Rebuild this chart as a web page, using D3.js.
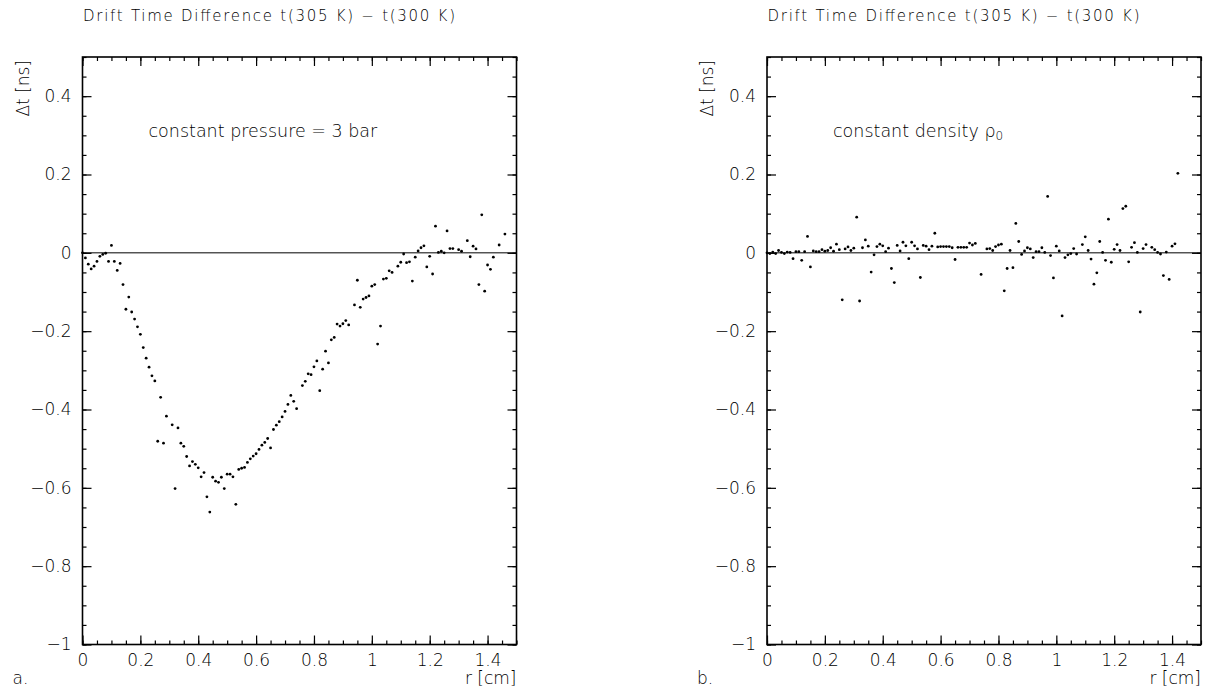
<!DOCTYPE html>
<html>
<head>
<meta charset="utf-8">
<script src="https://cdn.jsdelivr.net/npm/d3@7"></script>
<style>
  body { margin: 0; background: #fff; }
  svg text { font-family: "DejaVu Sans", sans-serif; font-weight: 200; fill: #000; }
</style>
</head>
<body>
<div id="general"></div>
<script>
// chart values
const titleText = "Drift Time Difference t(305 K) \u2212 t(300 K)";
const xLabel = "r [cm]";
const yLabel = "\u0394t [ns]";
const xMajor = [0, 0.2, 0.4, 0.6, 0.8, 1, 1.2, 1.4];
const yMajor = [-1, -0.8, -0.6, -0.4, -0.2, 0, 0.2, 0.4];
const xDomain = [0, 1.5];
const yDomain = [-1, 0.5];

// r [cm], dt [ns] : constant pressure = 3 bar
const pressurePts = [
  [0.00,0.000],[0.01,-0.013],[0.02,-0.029],[0.03,-0.041],[0.04,-0.034],[0.05,-0.022],[0.06,-0.009],[0.07,-0.004],
  [0.08,-0.001],[0.09,-0.022],[0.10,0.019],[0.11,-0.022],[0.12,-0.045],[0.13,-0.027],[0.14,-0.081],[0.15,-0.144],
  [0.16,-0.113],[0.17,-0.151],[0.18,-0.169],[0.19,-0.189],[0.20,-0.208],[0.21,-0.242],[0.22,-0.269],[0.23,-0.292],
  [0.24,-0.314],[0.25,-0.327],[0.26,-0.481],[0.27,-0.369],[0.28,-0.486],[0.29,-0.417],[0.31,-0.439],[0.32,-0.602],
  [0.33,-0.447],[0.34,-0.486],[0.35,-0.494],[0.36,-0.520],[0.37,-0.544],[0.38,-0.533],[0.39,-0.540],[0.40,-0.549],
  [0.41,-0.572],[0.42,-0.561],[0.43,-0.623],[0.44,-0.662],[0.45,-0.573],[0.46,-0.583],[0.47,-0.586],[0.48,-0.573],
  [0.49,-0.602],[0.50,-0.565],[0.51,-0.565],[0.52,-0.572],[0.53,-0.642],[0.54,-0.553],[0.55,-0.550],[0.56,-0.548],
  [0.57,-0.535],[0.58,-0.526],[0.59,-0.519],[0.60,-0.513],[0.61,-0.502],[0.62,-0.491],[0.63,-0.484],[0.64,-0.474],
  [0.65,-0.498],[0.66,-0.451],[0.67,-0.440],[0.68,-0.431],[0.69,-0.419],[0.70,-0.405],[0.71,-0.387],[0.72,-0.364],
  [0.73,-0.379],[0.74,-0.398],[0.76,-0.339],[0.77,-0.328],[0.78,-0.309],[0.79,-0.311],[0.80,-0.291],[0.81,-0.276],
  [0.82,-0.352],[0.83,-0.297],[0.84,-0.251],[0.85,-0.281],[0.86,-0.222],[0.87,-0.216],[0.88,-0.182],[0.89,-0.187],
  [0.90,-0.181],[0.91,-0.173],[0.92,-0.184],[0.94,-0.133],[0.95,-0.070],[0.96,-0.139],[0.97,-0.118],[0.98,-0.114],
  [0.99,-0.110],[1.00,-0.085],[1.01,-0.081],[1.02,-0.233],[1.03,-0.187],[1.04,-0.067],[1.05,-0.065],[1.06,-0.046],
  [1.07,-0.050],[1.09,-0.034],[1.10,-0.024],[1.11,-0.003],[1.12,-0.025],[1.13,-0.023],[1.14,-0.072],[1.15,-0.011],
  [1.16,0.005],[1.17,0.013],[1.18,0.018],[1.19,-0.036],[1.20,-0.009],[1.21,-0.054],[1.22,0.068],[1.23,0.001],
  [1.24,0.004],[1.25,0.000],[1.26,0.056],[1.27,0.011],[1.28,0.011],[1.30,0.008],[1.31,0.004],[1.33,0.031],
  [1.34,-0.010],[1.35,0.017],[1.36,0.010],[1.37,-0.081],[1.38,0.097],[1.39,-0.098],[1.40,-0.031],[1.41,-0.042],
  [1.42,-0.011],[1.44,0.020],[1.46,0.048]
];

// r [cm], dt [ns] : constant density rho0
const densityPts = [
  [0.00,0.000],[0.01,-0.002],[0.02,0.002],[0.03,-0.002],[0.04,0.006],[0.05,0.001],[0.06,-0.002],[0.07,0.002],
  [0.08,0.001],[0.09,-0.015],[0.10,0.003],[0.11,0.003],[0.12,-0.019],[0.13,0.003],[0.14,0.042],[0.15,-0.036],
  [0.16,0.005],[0.17,0.003],[0.18,0.003],[0.19,0.008],[0.20,0.004],[0.21,0.006],[0.22,0.013],[0.23,0.004],
  [0.24,0.022],[0.25,0.008],[0.26,-0.120],[0.27,0.010],[0.28,0.015],[0.29,0.006],[0.30,0.012],[0.31,0.091],
  [0.32,-0.123],[0.33,0.013],[0.34,0.033],[0.35,0.017],[0.36,-0.049],[0.37,-0.005],[0.38,0.016],[0.39,0.022],
  [0.40,0.018],[0.41,0.003],[0.42,0.012],[0.43,-0.040],[0.44,-0.076],[0.45,0.019],[0.46,0.005],[0.47,0.027],
  [0.48,0.018],[0.49,-0.015],[0.50,0.027],[0.51,0.018],[0.52,0.010],[0.53,-0.063],[0.54,0.019],[0.55,0.017],
  [0.56,0.008],[0.57,0.017],[0.58,0.050],[0.59,0.015],[0.60,0.016],[0.61,0.016],[0.62,0.016],[0.63,0.016],
  [0.64,0.013],[0.65,-0.017],[0.66,0.014],[0.67,0.014],[0.68,0.014],[0.69,0.014],[0.70,0.025],[0.71,0.020],
  [0.72,0.024],[0.74,-0.055],[0.76,0.010],[0.77,0.011],[0.78,0.006],[0.79,0.016],[0.80,0.020],[0.81,0.022],
  [0.82,-0.097],[0.83,-0.040],[0.84,0.006],[0.85,-0.038],[0.86,0.075],[0.87,0.029],[0.88,-0.004],[0.89,0.005],
  [0.90,0.013],[0.91,0.010],[0.92,-0.012],[0.93,0.003],[0.94,0.003],[0.95,0.013],[0.96,0.001],[0.97,0.144],
  [0.98,-0.007],[0.99,-0.064],[1.00,0.017],[1.01,0.005],[1.02,-0.161],[1.03,-0.012],[1.04,-0.005],[1.05,-0.002],
  [1.06,0.011],[1.07,-0.003],[1.09,0.021],[1.10,0.041],[1.11,0.006],[1.12,-0.016],[1.13,-0.080],[1.14,-0.051],
  [1.15,0.029],[1.16,0.001],[1.17,-0.019],[1.18,0.086],[1.19,-0.024],[1.20,0.009],[1.21,0.021],[1.22,0.006],
  [1.23,0.113],[1.24,0.119],[1.25,-0.023],[1.26,0.014],[1.27,0.026],[1.28,0.001],[1.29,-0.151],[1.30,0.011],
  [1.31,0.021],[1.33,0.014],[1.34,0.008],[1.35,0.001],[1.36,-0.003],[1.37,-0.058],[1.38,0.002],[1.39,-0.068],
  [1.40,0.017],[1.41,0.023],[1.42,0.203]
];

const W = 1210, H = 693;
const m = {t: 57, b: 644.5};
const panels = [
  {tag: "a.", note: "constant pressure = 3 bar", pts: pressurePts, l: 82.5, r: 516.5},
  {tag: "b.", note: "constant density ", rho: true, pts: densityPts, l: 767, r: 1201}
];

const svg = d3.select("#general").append("svg")
  .attr("width", W).attr("height", H)
  .attr("viewBox", [0, 0, W, H]);

const fmt = d => d3.format("~g")(d);
const minorX = d3.range(0, 1.5001, 0.05).map(d => +d.toFixed(2));
const minorY = d3.range(-1, 0.5001, 0.05).map(d => +d.toFixed(2));

panels.forEach(p => {
  const x = d3.scaleLinear().domain(xDomain).range([p.l, p.r]);
  const y = d3.scaleLinear().domain(yDomain).range([m.b, m.t]);
  const g = svg.append("g");

  const axes = [
    [d3.axisBottom(x).tickValues(xMajor).tickFormat(fmt).tickSize(-9).tickPadding(9), `translate(0,${m.b})`, true],
    [d3.axisBottom(x).tickValues(minorX).tickFormat("").tickSize(-4), `translate(0,${m.b})`],
    [d3.axisTop(x).tickValues(xMajor).tickFormat("").tickSize(-9), `translate(0,${m.t})`],
    [d3.axisTop(x).tickValues(minorX).tickFormat("").tickSize(-4), `translate(0,${m.t})`],
    [d3.axisLeft(y).tickValues(yMajor).tickFormat(fmt).tickSize(-9).tickPadding(11), `translate(${p.l},0)`, true],
    [d3.axisLeft(y).tickValues(minorY).tickFormat("").tickSize(-4), `translate(${p.l},0)`],
    [d3.axisRight(y).tickValues(yMajor).tickFormat("").tickSize(-9), `translate(${p.r},0)`],
    [d3.axisRight(y).tickValues(minorY).tickFormat("").tickSize(-4), `translate(${p.r},0)`]
  ];
  axes.forEach(([ax, tr, lab]) => {
    const a = g.append("g").attr("transform", tr).call(ax);
    a.select(".domain").remove();
    a.selectAll(".tick line").attr("stroke", "#000").attr("stroke-width", 1.2);
    if (lab) a.selectAll(".tick text")
      .style("font-size", "17px").style("font-family", "\"DejaVu Sans\", sans-serif")
      .style("font-weight", 200).attr("fill", "#000");
  });

  // frame
  g.append("rect")
    .attr("x", p.l).attr("y", m.t)
    .attr("width", p.r - p.l).attr("height", m.b - m.t)
    .attr("fill", "none").attr("stroke", "#000").attr("stroke-width", 1.6);

  // zero line
  g.append("line")
    .attr("x1", x(0)).attr("x2", x(1.5))
    .attr("y1", y(0)).attr("y2", y(0))
    .attr("stroke", "#000").attr("stroke-width", 1);

  g.append("g").selectAll("circle")
    .data(p.pts)
    .join("circle")
      .attr("cx", d => x(d[0]))
      .attr("cy", d => y(d[1]))
      .attr("r", 1.4)
      .attr("fill", "#000");

  g.append("text")
    .attr("x", p.l + 0.5).attr("y", 20.5)
    .attr("textLength", 372).attr("lengthAdjust", "spacing")
    .style("font-size", "15px")
    .text(titleText);

  g.append("text")
    .attr("transform", `translate(${p.l - 54},${m.t + 3}) rotate(-90)`)
    .attr("text-anchor", "end")
    .style("font-size", "17px")
    .text(yLabel);

  const note = g.append("text")
    .attr("x", p.l + 66).attr("y", 137)
    .style("font-size", "17.5px")
    .text(p.note);
  if (p.rho) {
    note.append("tspan").text("\u03c1");
    note.append("tspan").attr("dy", 3).style("font-size", "12px").text("0");
  }

  g.append("text")
    .attr("x", p.l - 70).attr("y", 684)
    .style("font-size", "17px")
    .text(p.tag);

  g.append("text")
    .attr("x", p.r).attr("y", 684)
    .attr("text-anchor", "end")
    .style("font-size", "17px")
    .text(xLabel);
});
</script>
</body>
</html>
